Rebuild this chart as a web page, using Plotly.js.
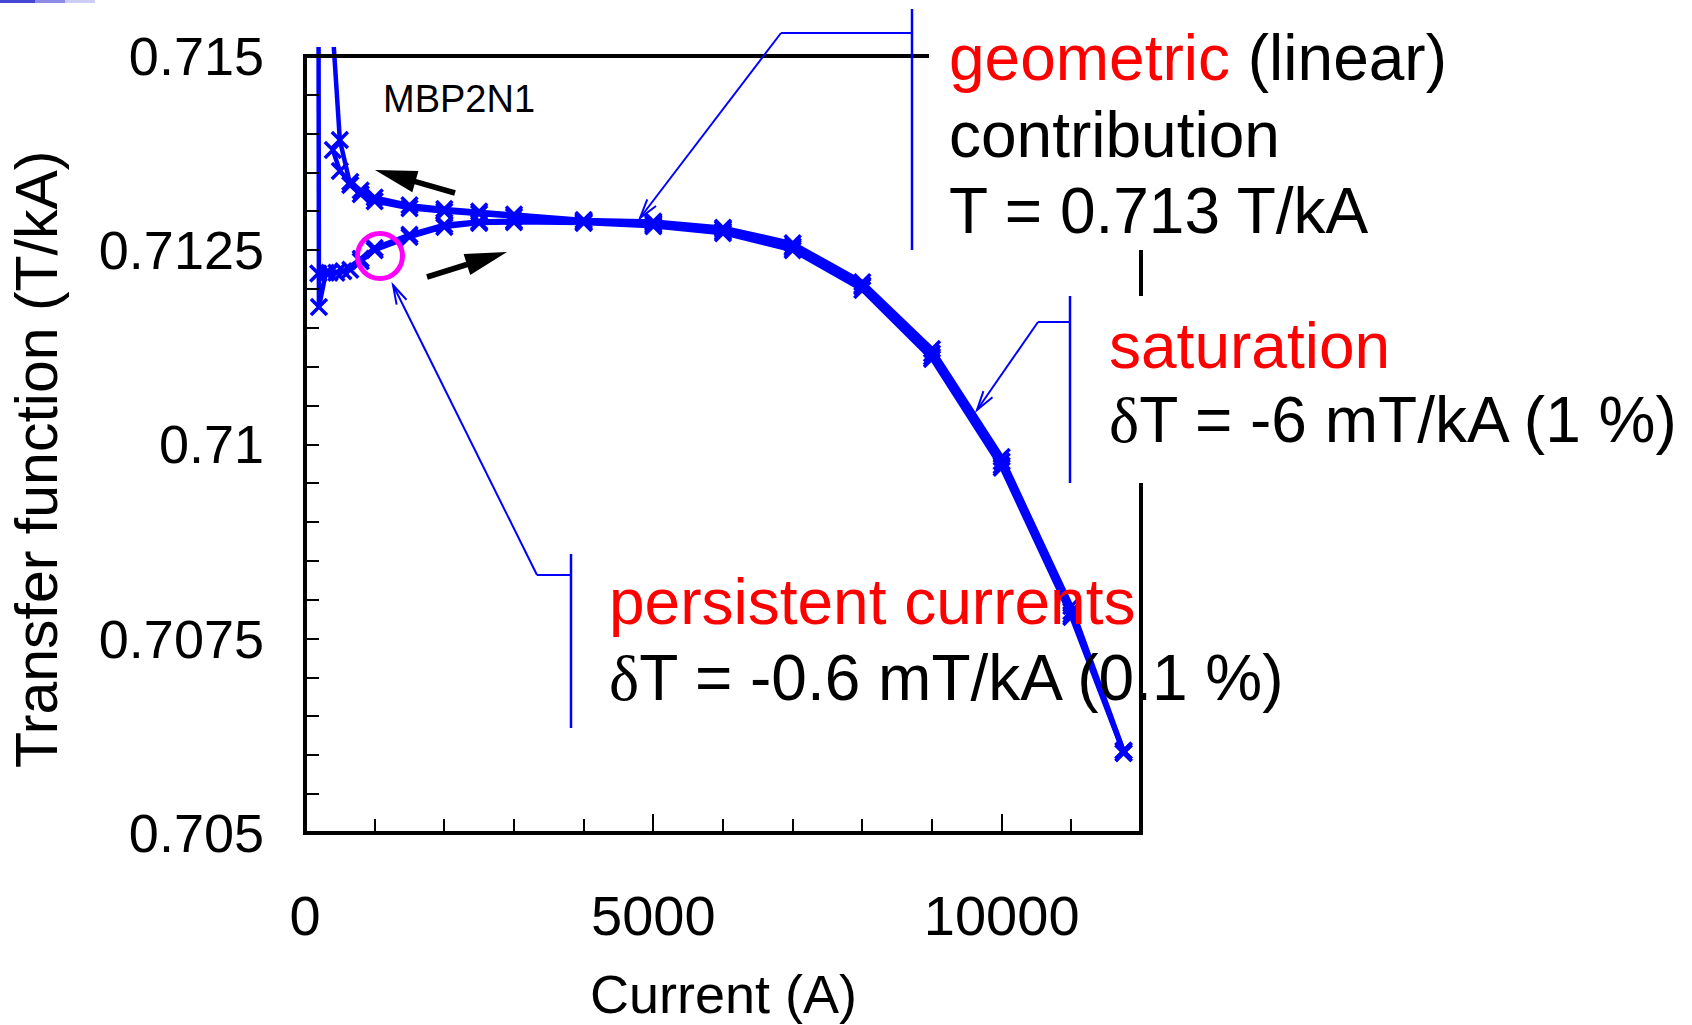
<!DOCTYPE html>
<html><head><meta charset="utf-8">
<script src="https://cdn.plot.ly/plotly-3.0.1.min.js"></script>
<style>html,body{margin:0;padding:0;background:#fff}#chart{width:1692px;height:1025px}</style>
</head><body><div id="chart"></div>
<script>
// ---------------- data (current in A, transfer function in T/kA) ----------------
const upA_current = [180, 200, 300, 450, 650, 800, 1000, 1500, 2000, 2500, 3000, 4000, 5000, 6000, 7000, 8000, 9000, 10000, 11000, 11750];
const upA_tf      = [0.7250, 0.71177, 0.71221, 0.71221, 0.71225, 0.71236, 0.71250, 0.71267, 0.71280, 0.71285, 0.71286, 0.71285, 0.71281, 0.71272, 0.71250, 0.71199, 0.71110, 0.70970, 0.70778, 0.70603];

const downA_current = [11750, 11000, 10000, 9000, 8000, 7000, 6000, 5000, 4000, 3000, 2500, 2000, 1500, 1000, 800, 650, 500, 400];
const downA_tf      = [0.70603, 0.70785, 0.70978, 0.71117, 0.71205, 0.71255, 0.71277, 0.71285, 0.71287, 0.71293, 0.71297, 0.71300, 0.71304, 0.71313, 0.71322, 0.71334, 0.71392, 0.71530];

const upB_current = [190, 350, 550, 800, 1000, 1500, 2000, 2500, 3000, 4000, 5000, 6000, 7000, 8000, 9000, 10000, 11000, 11750];
const upB_tf      = [0.71220, 0.71221, 0.71223, 0.71239, 0.71253, 0.71270, 0.71283, 0.71287, 0.71288, 0.71286, 0.71283, 0.71274, 0.71253, 0.71203, 0.71113, 0.70973, 0.70781, 0.70606];

const downB_current = [11750, 11000, 10000, 9000, 8000, 7000, 6000, 5000, 4000, 3000, 2500, 2000, 1500, 1000, 800, 650, 500, 400];
const downB_tf      = [0.70606, 0.70792, 0.70984, 0.71123, 0.71209, 0.71259, 0.71279, 0.71287, 0.71289, 0.71296, 0.71300, 0.71303, 0.71308, 0.71318, 0.71327, 0.71338, 0.71352, 0.71379];

const xTickVals = [0, 5000, 10000];
const xTickText = ['0', '5000', '10000'];
const yTickVals = [0.705, 0.7075, 0.71, 0.7125, 0.715];
const yTickText = ['0.705', '0.7075', '0.71', '0.7125', '0.715'];

const magnetName = 'MBP2N1';
const xTitle = 'Current (A)';
const yTitle = 'Transfer function (T/kA)';
const DELTA = "<span style='font-family:Liberation Serif, Times New Roman, serif'>δ</span>";
const geoLines = ["<span style='color:#FF0000'>geometric</span> (linear)", 'contribution', 'T = 0.713 T/kA'];
const satLines = ["<span style='color:#FF0000'>saturation</span>", DELTA + 'T = -6 mT/kA (1 %)'];
const pcLines  = ["<span style='color:#FF0000'>persistent currents</span>", DELTA + 'T = -0.6 mT/kA (0.1 %)'];

// ---------------- geometry helpers (pixel -> paper) ----------------
const L = 305, R = 1141, TOP = 47, B = 833;
const PX = x => (x - L) / (R - L);
const PY = y => (B - y) / (B - TOP);
const BLUE = '#0000FF';

function seg(x0, y0, x1, y1, color, w) {
  return {type: 'line', xref: 'paper', yref: 'paper', layer: 'above',
    x0: PX(x0), y0: PY(y0), x1: PX(x1), y1: PY(y1), line: {color: color, width: w}};
}
function pathShape(pts, closed, color, w, fill) {
  let d = pts.map((p, i) => (i ? 'L' : 'M') + PX(p[0]).toFixed(5) + ',' + PY(p[1]).toFixed(5)).join(' ');
  if (closed) d += ' Z';
  return {type: 'path', xref: 'paper', yref: 'paper', layer: 'above', path: d,
    line: {color: color, width: w}, fillcolor: fill || 'rgba(0,0,0,0)'};
}
function vHead(from, tip, len, ang) {
  const dx = from[0] - tip[0], dy = from[1] - tip[1];
  const n = Math.hypot(dx, dy), ux = dx / n, uy = dy / n;
  const a = ang * Math.PI / 180;
  const r1 = [tip[0] + len * (ux * Math.cos(a) - uy * Math.sin(a)), tip[1] + len * (ux * Math.sin(a) + uy * Math.cos(a))];
  const r2 = [tip[0] + len * (ux * Math.cos(-a) - uy * Math.sin(-a)), tip[1] + len * (ux * Math.sin(-a) + uy * Math.cos(-a))];
  return pathShape([r1, tip, r2], false, BLUE, 2);
}
function fatArrow(tail, tip, headLen, headHalf, shaftHalf) {
  const dx = tip[0] - tail[0], dy = tip[1] - tail[1];
  const n = Math.hypot(dx, dy), ux = dx / n, uy = dy / n, nx = -uy, ny = ux;
  const neck = [tip[0] - ux * headLen, tip[1] - uy * headLen];
  const pts = [
    [tail[0] + nx * shaftHalf, tail[1] + ny * shaftHalf],
    [neck[0] + nx * shaftHalf, neck[1] + ny * shaftHalf],
    [neck[0] + nx * headHalf, neck[1] + ny * headHalf],
    tip,
    [neck[0] - nx * headHalf, neck[1] - ny * headHalf],
    [neck[0] - nx * shaftHalf, neck[1] - ny * shaftHalf],
    [tail[0] - nx * shaftHalf, tail[1] - ny * shaftHalf]
  ];
  return pathShape(pts, true, '#000', 0, '#000');
}

// ---------------- traces ----------------
function branch(xs, ys) {
  return {x: xs, y: ys, type: 'scatter', mode: 'lines+markers', hoverinfo: 'skip',
    line: {color: BLUE, width: 4.5},
    marker: {symbol: 'x-thin-open', size: 16, color: BLUE, line: {color: BLUE, width: 3.5}}};
}
const data = [
  branch(upA_current, upA_tf),
  branch(downA_current, downA_tf),
  branch(upB_current, upB_tf),
  branch(downB_current, downB_tf)
];

// ---------------- shapes ----------------
const shapes = [
  // frame
  seg(305, 54, 305, 835, '#000', 4),
  seg(303, 833, 1143, 833, '#000', 4),
  seg(303, 56, 929, 56, '#000', 4),
  seg(1141, 250, 1141, 296, '#000', 4),
  seg(1141, 483, 1141, 835, '#000', 4),
  // geometric callout
  seg(912, 9, 912, 250, BLUE, 2.5),
  seg(912, 33, 781, 33, BLUE, 2),
  seg(781, 33, 640, 218, BLUE, 2),
  vHead([781, 33], [640, 218], 20, 16),
  // saturation callout
  seg(1070, 296, 1070, 483, BLUE, 2.5),
  seg(1070, 322, 1038, 322, BLUE, 2),
  seg(1038, 322, 977, 410, BLUE, 2),
  vHead([1038, 322], [977, 410], 20, 16),
  // persistent currents callout
  seg(571, 554, 571, 728, BLUE, 2.5),
  seg(571, 575, 537, 575, BLUE, 2),
  seg(537, 575, 393, 285, BLUE, 2),
  vHead([537, 575], [393, 285], 20, 16),
  // magenta circle
  {type: 'circle', xref: 'paper', yref: 'paper', layer: 'above',
   x0: PX(380 - 22.5), x1: PX(380 + 22.5), y0: PY(256 + 22.5), y1: PY(256 - 22.5),
   line: {color: '#FF00FF', width: 5}},
  // black ramp arrows
  fatArrow([455, 193], [375, 170], 42, 11, 2.8),
  fatArrow([427, 277], [507, 252], 42, 11, 2.8),
  // slide artifact at top-left
  {type: 'rect', xref: 'paper', yref: 'paper', layer: 'above', x0: PX(0), x1: PX(35), y0: PY(3), y1: PY(0), line: {width: 0}, fillcolor: 'rgb(70,70,215)'},
  {type: 'rect', xref: 'paper', yref: 'paper', layer: 'above', x0: PX(35), x1: PX(65), y0: PY(3), y1: PY(0), line: {width: 0}, fillcolor: 'rgb(140,140,230)'},
  {type: 'rect', xref: 'paper', yref: 'paper', layer: 'above', x0: PX(65), x1: PX(95), y0: PY(3), y1: PY(0), line: {width: 0}, fillcolor: 'rgb(205,205,245)'}
];

// ---------------- annotations ----------------
const FONT = 'Liberation Sans, Arial, sans-serif';
function txt(text, x, y, size, extra) {
  return Object.assign({text: text, xref: 'paper', yref: 'paper', x: PX(x), y: PY(y),
    xanchor: 'left', yanchor: 'middle', showarrow: false, borderpad: 0,
    font: {family: FONT, size: size, color: '#000'}}, extra || {});
}
const annotations = [
  txt(geoLines[0], 948, 58, 64),
  txt(geoLines[1], 948, 135, 64),
  txt(geoLines[2], 948, 211, 64),
  txt(satLines[0], 1108, 346, 64),
  txt(satLines[1], 1108, 420, 64),
  txt(pcLines[0], 608, 602, 64),
  txt(pcLines[1], 608, 678, 64),
  txt(magnetName, 382, 99, 38),
  txt(xTitle, 723, 994, 54, {xanchor: 'center'}),
  txt(yTitle, 37, 460, 59, {xanchor: 'center', textangle: -90})
];

const layout = {
  width: 1692, height: 1025,
  margin: {l: L, r: 1692 - R, t: TOP, b: 1025 - B, pad: 0},
  paper_bgcolor: '#fff', plot_bgcolor: '#fff',
  showlegend: false,
  font: {family: FONT, color: '#000'},
  xaxis: {
    range: [0, 12000], showline: false, zeroline: false, showgrid: false,
    ticks: 'inside', ticklen: 19, tickwidth: 2, tickcolor: '#000',
    tickmode: 'array', tickvals: xTickVals, ticktext: xTickText,
    tickfont: {family: FONT, size: 56, color: '#000'}, ticklabelstandoff: 45,
    minor: {tickmode: 'linear', tick0: 0, dtick: 1000, ticks: 'inside', ticklen: 14, tickwidth: 2, tickcolor: '#000', showgrid: false}
  },
  yaxis: {
    range: [0.705, 0.715116], showline: false, zeroline: false, showgrid: false,
    ticks: 'inside', ticklen: 14, tickwidth: 2, tickcolor: '#000',
    tickmode: 'array', tickvals: yTickVals, ticktext: yTickText,
    tickfont: {family: FONT, size: 54, color: '#000'}, ticklabelstandoff: 40,
    minor: {tickmode: 'linear', tick0: 0.705, dtick: 0.0005, ticks: 'inside', ticklen: 14, tickwidth: 2, tickcolor: '#000', showgrid: false}
  },
  shapes: shapes,
  annotations: annotations
};

Plotly.newPlot('chart', data, layout, {displayModeBar: false, responsive: false});
</script>
</body></html>
